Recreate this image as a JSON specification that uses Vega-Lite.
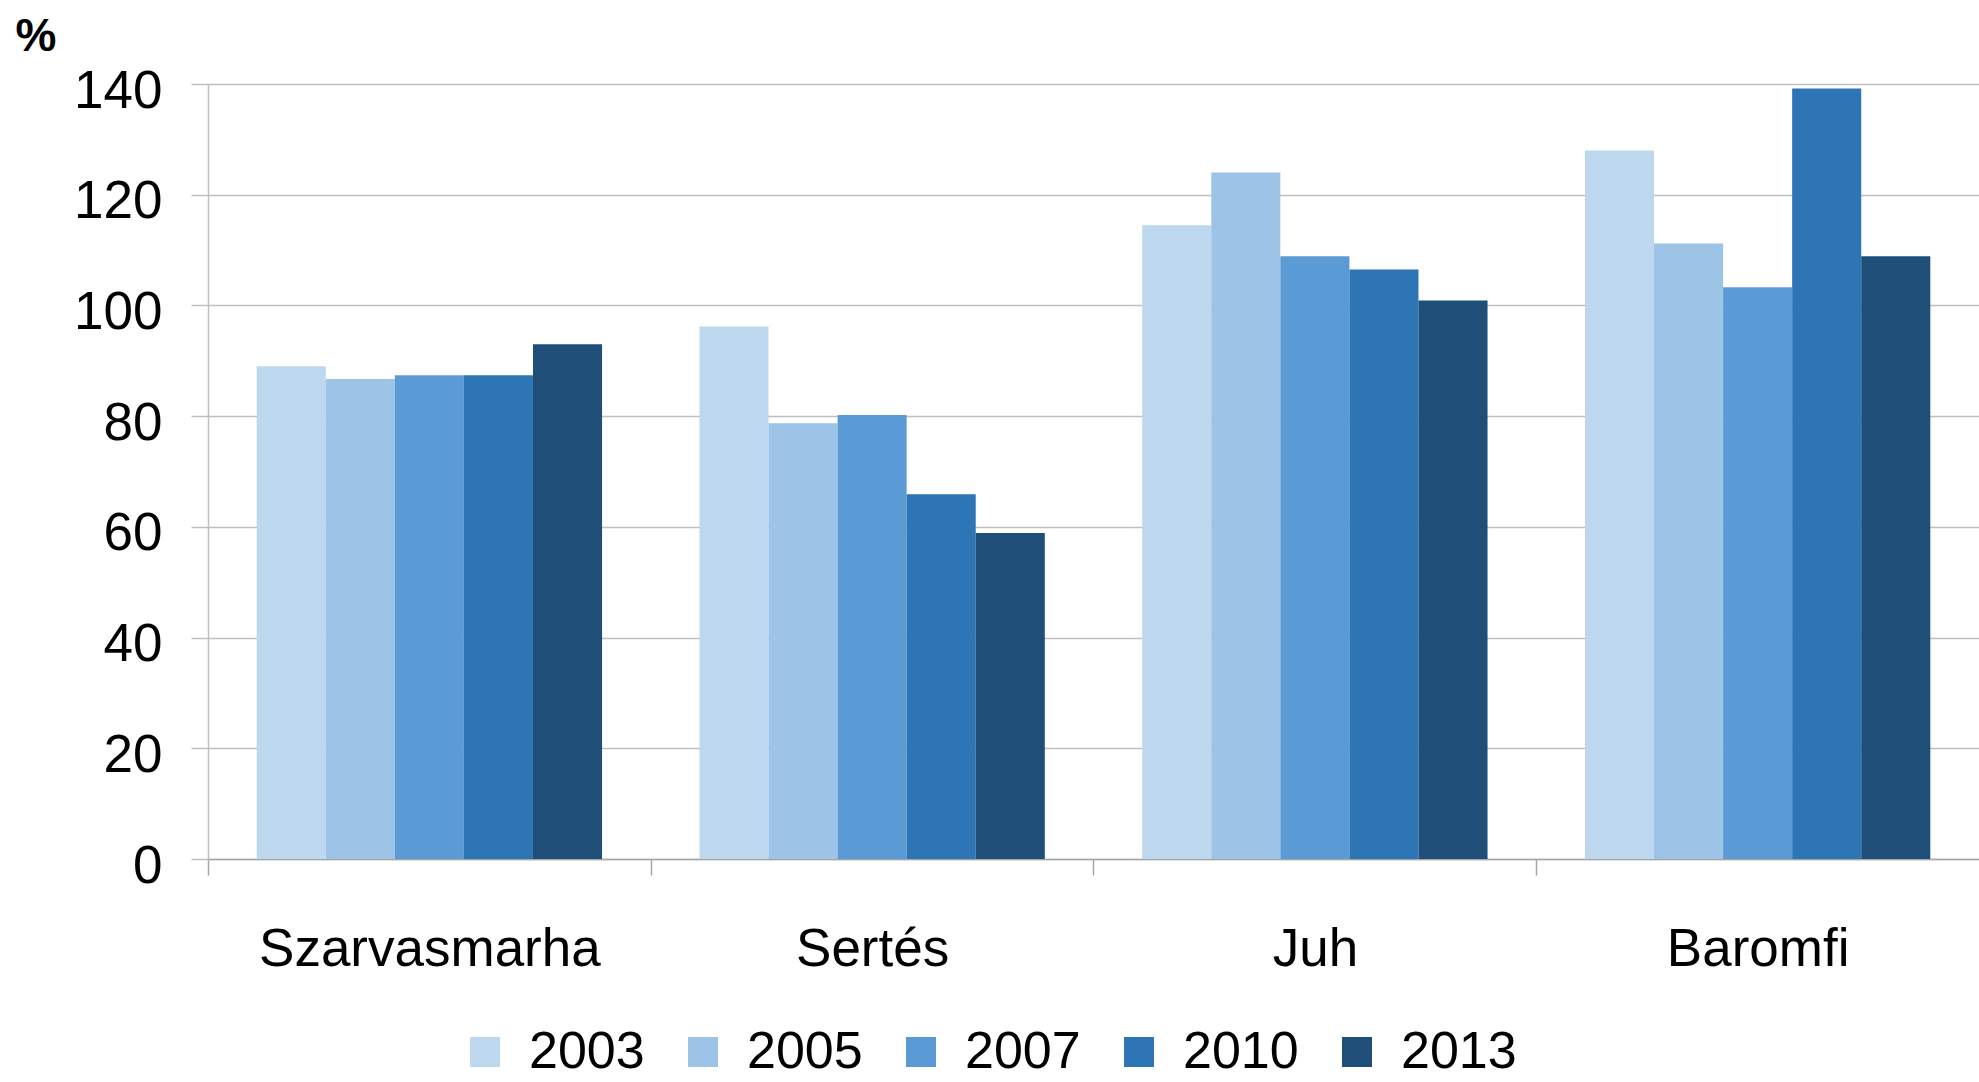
{
  "$schema": "https://vega.github.io/schema/vega-lite/v6.json",
  "width": 1771,
  "height": 775,
  "autosize": {"type": "none"},
  "padding": {"left": 208, "top": 84, "right": 0, "bottom": 223},
  "background": "white",
  "config": {"view": {"stroke": null}, "font": "Liberation Sans"},
  "data": {
    "values": [
      {"cat": "Szarvasmarha", "year": "2003", "value": 89.0},
      {"cat": "Szarvasmarha", "year": "2005", "value": 86.7},
      {"cat": "Szarvasmarha", "year": "2007", "value": 87.4},
      {"cat": "Szarvasmarha", "year": "2010", "value": 87.4},
      {"cat": "Szarvasmarha", "year": "2013", "value": 93.0},
      {"cat": "Sertés", "year": "2003", "value": 96.2},
      {"cat": "Sertés", "year": "2005", "value": 78.7},
      {"cat": "Sertés", "year": "2007", "value": 80.2},
      {"cat": "Sertés", "year": "2010", "value": 65.9},
      {"cat": "Sertés", "year": "2013", "value": 58.9},
      {"cat": "Juh", "year": "2003", "value": 114.5},
      {"cat": "Juh", "year": "2005", "value": 124.0},
      {"cat": "Juh", "year": "2007", "value": 108.9},
      {"cat": "Juh", "year": "2010", "value": 106.5},
      {"cat": "Juh", "year": "2013", "value": 100.9},
      {"cat": "Baromfi", "year": "2003", "value": 128.0},
      {"cat": "Baromfi", "year": "2005", "value": 111.2},
      {"cat": "Baromfi", "year": "2007", "value": 103.3},
      {"cat": "Baromfi", "year": "2010", "value": 139.2},
      {"cat": "Baromfi", "year": "2013", "value": 108.9}
    ]
  },
  "mark": {"type": "bar"},
  "encoding": {
    "x": {
      "field": "cat",
      "type": "nominal",
      "sort": ["Szarvasmarha", "Sertés", "Juh", "Baromfi"],
      "scale": {"paddingInner": 0.22, "paddingOuter": 0.11},
      "axis": {
        "title": null,
        "labelAngle": 0,
        "labelFontSize": 53,
        "labelColor": "black",
        "labelLimit": 600,
        "domainColor": "#A6A6A6",
        "domainWidth": 1.5,
        "tickColor": "#A6A6A6",
        "tickWidth": 1.5,
        "tickSize": 16,
        "tickOffset": -221.4,
        "labelOffset": 221.4,
        "labelPadding": 90,
        "labelBaseline": "alphabetic",
        "grid": false
      }
    },
    "xOffset": {
      "field": "year",
      "type": "nominal",
      "scale": {"paddingInner": 0, "paddingOuter": 0}
    },
    "y": {
      "field": "value",
      "type": "quantitative",
      "scale": {"domain": [0, 140], "nice": false},
      "axis": {
        "values": [0, 20, 40, 60, 80, 100, 120, 140],
        "title": "%",
        "titleAngle": 0,
        "titleFontSize": 46,
        "titleFontWeight": "bold",
        "titleColor": "black",
        "titleX": -193,
        "titleY": -34,
        "titleAlign": "left",
        "titleBaseline": "alphabetic",
        "grid": true,
        "gridColor": "#BFBFBF",
        "gridWidth": 1.5,
        "domainColor": "#BFBFBF",
        "domainWidth": 1.5,
        "tickColor": "#BFBFBF",
        "tickWidth": 1.5,
        "tickSize": 17,
        "labelFontSize": 53,
        "labelColor": "black",
        "labelPadding": 29,
        "labelOffset": 7
      }
    },
    "color": {
      "field": "year",
      "type": "nominal",
      "scale": {
        "domain": ["2003", "2005", "2007", "2010", "2013"],
        "range": ["#BDD7EE", "#9DC3E6", "#5B9BD5", "#2E75B6", "#1F4E79"]
      },
      "legend": {
        "title": null,
        "orient": "none",
        "legendX": 251,
        "legendY": 942,
        "direction": "horizontal",
        "symbolType": "square",
        "symbolSize": 900,
        "symbolStrokeWidth": 0,
        "symbolOpacity": 1,
        "labelFontSize": 52,
        "labelColor": "black",
        "labelOffset": 18,
        "labelLimit": 300,
        "columnPadding": 32
      }
    }
  }
}
